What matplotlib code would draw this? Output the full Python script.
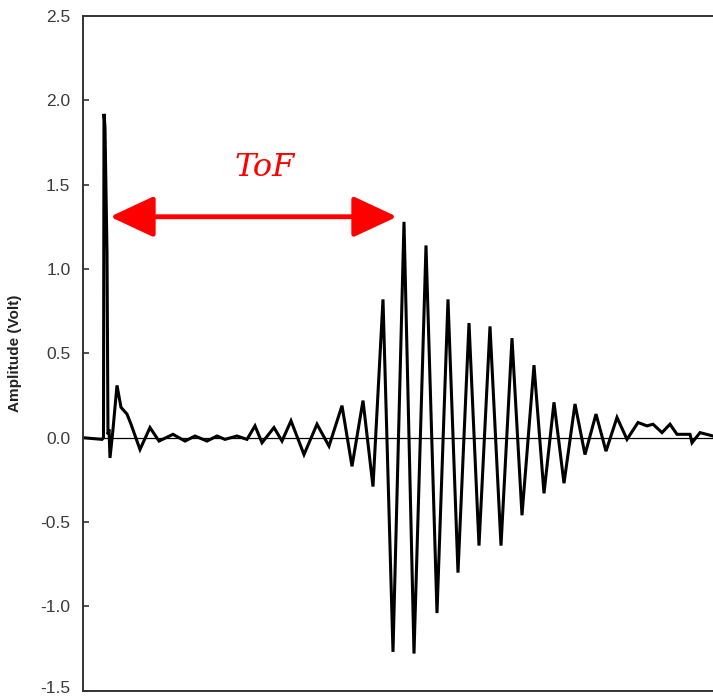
import matplotlib
matplotlib.use("Agg")
import matplotlib.pyplot as plt
import matplotlib.transforms as mtransforms
from matplotlib.ticker import FixedLocator, FuncFormatter

# Received ultrasonic signal at its turning points
# time in microseconds, amplitude in volts
t_us = [0.0, 1.9, 2.05, 2.1, 2.2, 2.4, 2.5, 2.6, 2.7, 3.0, 3.4, 3.8, 4.4, 4.8,
        5.7, 6.7, 7.6, 9.0, 10.2, 11.2, 12.4, 13.4, 14.2, 15.4, 16.4,
        17.2, 17.9, 19.1, 19.9, 20.8, 22.1, 23.4, 24.6, 25.9, 26.9, 28.0, 29.0,
        30.0, 31.0, 32.1, 33.1, 34.3, 35.4, 36.5, 37.5, 38.6, 39.6, 40.7, 41.8,
        42.9, 43.9, 45.1, 46.1, 47.1, 48.1, 49.2, 50.2, 51.3, 52.3, 53.4, 54.4,
        55.5, 56.4, 57.0, 57.9, 58.7, 59.4, 60.7, 60.9, 61.7, 63.0]
amp_v = [0.0, -0.01, 0.0, 1.92, 1.84, 1.10, 0.02, 0.05, -0.12, 0.05, 0.31, 0.18, 0.14, 0.08,
         -0.07, 0.06, -0.02, 0.02, -0.02, 0.01, -0.02, 0.01, -0.01, 0.01, -0.01,
         0.07, -0.03, 0.06, -0.02, 0.10, -0.10, 0.08, -0.05, 0.19, -0.17, 0.22, -0.29,
         0.82, -1.27, 1.28, -1.28, 1.14, -1.04, 0.82, -0.80, 0.68, -0.64, 0.66, -0.64,
         0.59, -0.46, 0.43, -0.33, 0.21, -0.27, 0.20, -0.10, 0.14, -0.08, 0.12, -0.01,
         0.09, 0.07, 0.08, 0.03, 0.08, 0.02, 0.02, -0.03, 0.03, 0.01]

y_ticks = [-1.5, -1.0, -0.5, 0.0, 0.5, 1.0, 1.5, 2.0, 2.5]

# time of flight: from the excitation spike to the first big echo peak
t_start = 2.4
t_echo = 32.1
echo_peak = 1.28

fig = plt.figure(figsize=(7.13, 6.98), dpi=100)
ax = fig.add_axes([0.1164, 0.0105, 0.8836, 0.9665])

ax.axhline(0.0, color="black", lw=0.9, zorder=1)
ax.plot(t_us, amp_v, color="black", lw=2.2, solid_joinstyle="miter", zorder=2)

ax.set_xlim(0, 63)
ax.set_ylim(-1.5, 2.5)
ax.set_xticks([])
ax.yaxis.set_major_locator(FixedLocator(y_ticks))
ax.yaxis.set_major_formatter(FuncFormatter(lambda v, p: "%.1f" % v))
ax.tick_params(axis="y", direction="in", length=4, width=1.2, color="#333333",
               pad=9, labelsize=12.5, labelcolor="#3a3a3a")
for lab in ax.get_yticklabels():
    lab.set_family("Liberation Sans")

# keep the lowest label inside the figure
low = ax.yaxis.get_major_ticks()[0].label1
low.set_transform(low.get_transform() +
                  mtransforms.ScaledTranslation(0, 3 / 72, fig.dpi_scale_trans))

for side in ["left", "top", "bottom"]:
    ax.spines[side].set_color("#333333")
    ax.spines[side].set_linewidth(1.4)
ax.spines["right"].set_visible(False)

ax.set_ylabel("Amplitude (Volt)", family="Liberation Sans", fontweight="bold",
              fontsize=11, color="#222222")
ax.yaxis.set_label_coords(-0.097, 0.5)

# ToF double arrow
ax.annotate("", xy=(t_echo - 0.7, echo_peak + 0.03), xytext=(t_start + 0.3, echo_peak + 0.03),
            arrowprops=dict(arrowstyle="<|-|>,head_length=0.9,head_width=0.42",
                            color="#ff0000", lw=3.5, shrinkA=0, shrinkB=0,
                            mutation_scale=30))
ax.text((t_start + t_echo) / 2 + 0.9, echo_peak + 0.32, "ToF", color="#ff0000",
        family="DejaVu Serif", style="italic", fontsize=23, ha="center", va="center")

fig.savefig("out.png", dpi=100)
